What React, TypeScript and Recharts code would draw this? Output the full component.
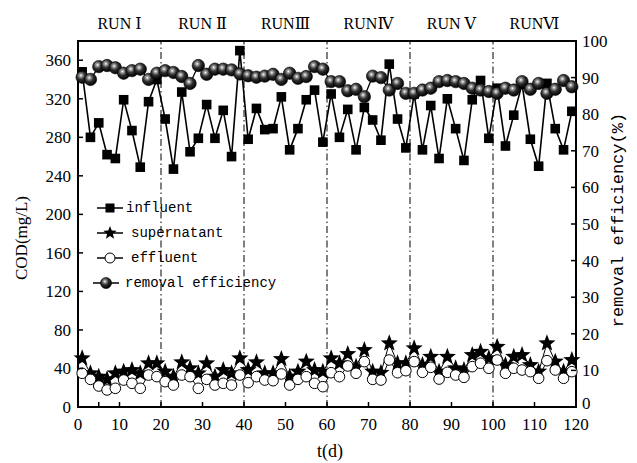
import React from "react";
import {
  ComposedChart,
  Line,
  XAxis,
  YAxis,
  ReferenceLine,
  ReferenceArea,
  Label,
} from "recharts";

// sampling days (every 2nd day)
const days = [
  1, 3, 5, 7, 9, 11, 13, 15, 17, 19, 21, 23, 25, 27, 29, 31, 33, 35, 37, 39,
  41, 43, 45, 47, 49, 51, 53, 55, 57, 59, 61, 63, 65, 67, 69, 71, 73, 75, 77, 79,
  81, 83, 85, 87, 89, 91, 93, 95, 97, 99, 101, 103, 105, 107, 109, 111, 113, 115, 117, 119,
];

const influent = [
  348, 280, 295, 262, 258, 319, 287, 249, 317, 340,
  299, 247, 327, 265, 279, 314, 279, 308, 260, 370,
  278, 310, 288, 289, 322, 267, 289, 319, 329, 275,
  325, 280, 309, 267, 311, 298, 277, 356, 299, 269,
  325, 267, 313, 258, 320, 289, 256, 319, 339, 279,
  331, 271, 303, 335, 278, 250, 336, 289, 267, 307,
];

const supernatant = [
  50.6, 35, 31.5, 28.7, 35, 36.7, 38.4, 35, 45.4, 45.4,
  36.7, 31.5, 46.4, 40.2, 35, 45.4, 31.5, 38.4, 35, 50.6,
  38.4, 46.4, 35, 35, 49.8, 31.5, 36.7, 47.1, 38.4, 36.7,
  50.6, 45.4, 55, 41.9, 59.2, 36.7, 35.6, 66.1, 45.4, 45.4,
  61, 43.6, 52.2, 36.7, 52.2, 40.2, 38.4, 54, 57.4, 50.6,
  62.6, 43.6, 52.2, 54, 43.6, 36.7, 66.1, 47.1, 36.7, 48.8,
];

const effluent = [
  35, 28.7, 21.8, 17.7, 19.4, 28, 24.6, 19.4, 33.2, 31.5,
  26.3, 22.8, 33.2, 31.5, 19.4, 28.7, 22.8, 24.6, 22.8, 33.2,
  25.3, 31.5, 28, 27.3, 34.3, 22.8, 28.7, 31.5, 24.6, 21.1,
  35.6, 31.5, 42.6, 35, 47.1, 28.7, 28, 48.8, 35.6, 37.7,
  47.1, 36, 41.2, 29, 36, 33.2, 30.8, 41.9, 45.4, 40.2,
  48.8, 35, 40.2, 38.4, 36.7, 29.8, 48.1, 38.4, 29.8, 36.7,
];

const removal = [
  90.1, 89.5, 93, 93.3, 92.7, 91.2, 91.9, 92.3, 89.5, 91.2,
  91.9, 91.4, 90.3, 88.4, 93.3, 90.9, 92.3, 92.3, 92.1, 91,
  90.5, 90.1, 90.4, 90.9, 89.5, 91.2, 89.8, 90.3, 93, 92.3,
  88.9, 88.9, 86.4, 86.8, 84.8, 90.4, 90, 86.6, 88.4, 85.7,
  85.7, 86.6, 87.1, 88.9, 89.2, 88.9, 88.4, 87.1, 86.6, 86.2,
  85.7, 87.1, 86.6, 88.9, 86.8, 88.4, 85.7, 86.8, 89.2, 87.5,
];

const runLabels = ["RUN Ⅰ", "RUN Ⅱ", "RUNⅢ", "RUNⅣ", "RUN Ⅴ", "RUNⅥ"];
const runCenters = [10, 30, 50, 70, 90, 110];
const runBounds = [20, 40, 60, 80, 100];

const dayTicks = [0, 5, 10, 15, 20, 25, 30, 35, 40, 45, 50, 55, 60, 65, 70, 75, 80, 85, 90, 95, 100, 105, 110, 115, 120];
const codTicks = [0, 20, 40, 60, 80, 100, 120, 140, 160, 180, 200, 220, 240, 260, 280, 300, 320, 340, 360];
const effTicks = [0, 5, 10, 15, 20, 25, 30, 35, 40, 45, 50, 55, 60, 65, 70, 75, 80, 85, 90, 95, 100];

const rows = days.map((d, i) => ({
  day: d,
  influent: influent[i],
  supernatant: supernatant[i],
  effluent: effluent[i],
  removal: removal[i],
}));

const serif = "'Liberation Serif', 'DejaVu Serif', serif";
const mono = "'Liberation Mono', 'DejaVu Sans Mono', monospace";

const starPath = (cx: number, cy: number, ro: number, ri: number) => {
  let d = "";
  for (let k = 0; k < 10; k++) {
    const r = k % 2 === 0 ? ro : ri;
    const a = -Math.PI / 2 + (k * Math.PI) / 5;
    d += (k === 0 ? "M" : "L") + (cx + r * Math.cos(a)).toFixed(2) + "," + (cy + r * Math.sin(a)).toFixed(2);
  }
  return d + "Z";
};

const SphereDefs = () => (
  <defs>
    <radialGradient id="sph" cx="40%" cy="36%" r="64%">
      <stop offset="0%" stopColor="#ffffff" />
      <stop offset="18%" stopColor="#a0a0a0" />
      <stop offset="50%" stopColor="#303030" />
      <stop offset="100%" stopColor="#000" />
    </radialGradient>
  </defs>
);

const SquareDot = (p: any) => (
  <rect key={p.index} x={p.cx - 4.8} y={p.cy - 4.8} width={9.6} height={9.6} fill="#000" />
);
const StarDot = (p: any) => (
  <path key={p.index} d={starPath(p.cx, p.cy, 9, 3.8)} fill="#000" />
);
const CircleDot = (p: any) => (
  <circle key={p.index} cx={p.cx} cy={p.cy} r={5.3} fill="#fff" stroke="#000" strokeWidth={1} />
);
const SphereDot = (p: any) => (
  <g key={p.index}>
    <SphereDefs />
    <circle cx={p.cx} cy={p.cy} r={6.2} fill="url(#sph)" stroke="#000" strokeWidth={0.6} />
  </g>
);

const BottomTick = ({ x, y, payload }: any) => (
  <g>
    <line x1={x} x2={x} y1={y} y2={y - 5} stroke="#000" strokeWidth={1.5} />
    {payload.value % 10 === 0 && (
      <text x={x} y={y + 23} textAnchor="middle" fontFamily={serif} fontSize={17} fill="#000">
        {payload.value}
      </text>
    )}
  </g>
);

const LeftTick = ({ x, y, payload }: any) => (
  <g>
    <line x1={x} x2={x + 5} y1={y} y2={y} stroke="#000" strokeWidth={1.5} />
    {payload.value % 40 === 0 && (
      <text x={x - 7} y={y} dy="0.35em" textAnchor="end" fontFamily={serif} fontSize={17} fill="#000">
        {payload.value}
      </text>
    )}
  </g>
);

const RightTick = ({ x, y, payload }: any) => (
  <g>
    <line x1={x} x2={x - 5} y1={y} y2={y} stroke="#000" strokeWidth={1.5} />
    {payload.value % 10 === 0 && (
      <text x={x + 6} y={payload.value === 0 ? y - 4 : y} dy="0.35em" textAnchor="start" fontFamily={serif} fontSize={17} fill="#000">
        {payload.value}
      </text>
    )}
  </g>
);

const TopTick = ({ x, y, payload }: any) => (
  <text x={x} y={y - 12} textAnchor="middle" fontFamily={serif} fontSize={16} fill="#000">
    {runLabels[runCenters.indexOf(payload.value)]}
  </text>
);

const legendItems = [
  { name: "influent", kind: "square", lx: 97, tx: 126 },
  { name: "supernatant", kind: "star", lx: 97, tx: 131 },
  { name: "effluent", kind: "circle", lx: 97, tx: 131 },
  { name: "removal efficiency", kind: "sphere", lx: 93, tx: 125 },
];

function LegendIcon({ kind }: { kind: string }) {
  return (
    <svg width={26} height={16} style={{ display: "block" }}>
      <SphereDefs />
      <line x1={0} x2={26} y1={8} y2={8} stroke="#000" strokeWidth={1.5} />
      {kind === "square" && <rect x={8.5} y={3.5} width={9} height={9} fill="#000" />}
      {kind === "star" && <path d={starPath(13, 8, 7, 3)} fill="#000" />}
      {kind === "circle" && <circle cx={13} cy={8} r={5} fill="#fff" stroke="#000" />}
      {kind === "sphere" && <circle cx={13} cy={8} r={5.5} fill="url(#sph)" stroke="#000" strokeWidth={0.6} />}
    </svg>
  );
}

export default function App() {
  return (
    <div style={{ position: "absolute", left: 0, top: 0, width: 637, height: 463, background: "#fff" }}>
      <ComposedChart width={637} height={463} data={rows} margin={{ top: 0, right: 0, bottom: 0, left: 0 }}>
        <XAxis
          xAxisId="top"
          orientation="top"
          dataKey="day"
          type="number"
          domain={[0, 120]}
          ticks={runCenters}
          height={41}
          axisLine={false}
          tickLine={false}
          tickSize={0}
          tickMargin={0}
          tick={<TopTick />}
        />
        <XAxis
          dataKey="day"
          type="number"
          domain={[0, 120]}
          ticks={dayTicks}
          height={56}
          axisLine={{ stroke: "#000", strokeWidth: 2 }}
          tickLine={false}
          tickSize={0}
          tickMargin={0}
          tick={<BottomTick />}
        >
          <Label
            content={({ viewBox }: any) => (
              <text x={viewBox.x + viewBox.width / 2 + 3} y={viewBox.y + 50} textAnchor="middle" fontFamily={serif} fontSize={18} fill="#000">
                t(d)
              </text>
            )}
          />
        </XAxis>
        <YAxis
          yAxisId="left"
          type="number"
          domain={[0, 380]}
          ticks={codTicks}
          width={78}
          axisLine={{ stroke: "#000", strokeWidth: 2 }}
          tickLine={false}
          tickSize={0}
          tickMargin={0}
          tick={<LeftTick />}
        >
          <Label
            content={({ viewBox }: any) => {
              const cx = viewBox.x + 21;
              const cy = viewBox.y + viewBox.height / 2 + 14;
              return (
                <text x={cx} y={cy} dy="0.35em" textAnchor="middle" transform={`rotate(-90 ${cx} ${cy})`} fontFamily={serif} fontSize={17} fill="#000">
                  COD(mg/L)
                </text>
              );
            }}
          />
        </YAxis>
        <YAxis
          yAxisId="right"
          orientation="right"
          type="number"
          domain={[0, 100]}
          ticks={effTicks}
          width={61}
          axisLine={{ stroke: "#000", strokeWidth: 2 }}
          tickLine={false}
          tickSize={0}
          tickMargin={0}
          tick={<RightTick />}
        >
          <Label
            content={({ viewBox }: any) => {
              const cx = viewBox.x + 41;
              const cy = viewBox.y + viewBox.height / 2 - 4;
              return (
                <text x={cx} y={cy} dy="0.35em" textAnchor="middle" transform={`rotate(-90 ${cx} ${cy})`} fontFamily={mono} fontSize={17} fill="#000">
                  removal efficiency(%)
                </text>
              );
            }}
          />
        </YAxis>

        <ReferenceArea yAxisId="left" x1={0} x2={120} y1={0} y2={380} fill="none" stroke="#000" strokeWidth={2} ifOverflow="visible" />
        {runBounds.map((b) => (
          <ReferenceLine key={b} yAxisId="left" x={b} stroke="#000" strokeWidth={1} strokeDasharray="7 3 1.5 3" />
        ))}

        <Line yAxisId="left" dataKey="supernatant" stroke="#000" strokeWidth={1} dot={<StarDot />} isAnimationActive={false} />
        <Line yAxisId="left" dataKey="effluent" stroke="#000" strokeWidth={1} dot={<CircleDot />} isAnimationActive={false} />
        <Line yAxisId="left" dataKey="influent" stroke="#000" strokeWidth={1.6} dot={<SquareDot />} isAnimationActive={false} />
        <Line yAxisId="right" dataKey="removal" stroke="#000" strokeWidth={1.3} dot={<SphereDot />} isAnimationActive={false} />
      </ComposedChart>

      <div style={{ position: "absolute", left: 0, top: 0 }}>
        {legendItems.map((it, i) => (
          <div key={it.name} style={{ position: "absolute", top: 200 + i * 25, left: it.lx, display: "flex", alignItems: "center", whiteSpace: "nowrap" }}>
            <LegendIcon kind={it.kind} />
            <span style={{ marginLeft: it.tx - it.lx - 26, fontFamily: mono, fontSize: 14, lineHeight: "16px", color: "#000" }}>{it.name}</span>
          </div>
        ))}
      </div>
    </div>
  );
}
